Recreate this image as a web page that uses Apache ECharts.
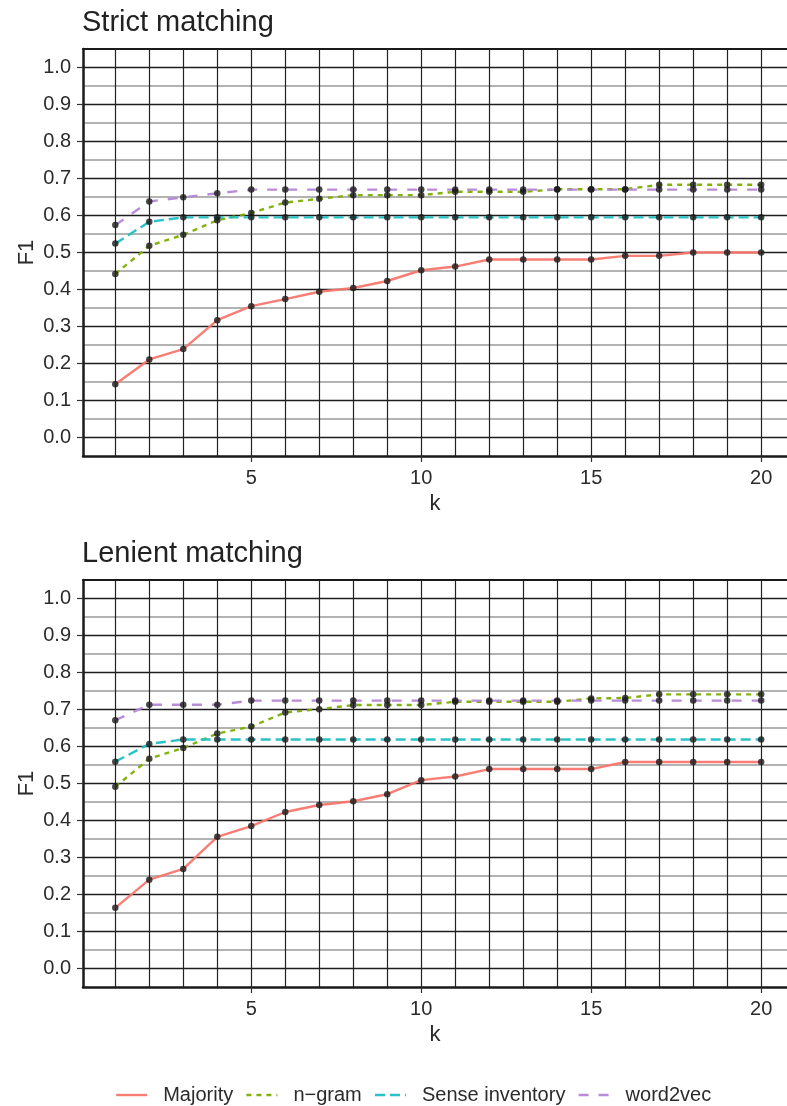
<!DOCTYPE html>
<html>
<head>
<meta charset="utf-8">
<script src="https://cdn.jsdelivr.net/npm/echarts@6/dist/echarts.min.js"></script>
<style>
  html, body { margin: 0; padding: 0; background: #fff; }
  #chart { width: 787px; height: 1106px; }
</style>
</head>
<body>
<div id="chart"></div>
<script>
// k values and tick labels
var kValues = [1, 2, 3, 4, 5, 6, 7, 8, 9, 10, 11, 12, 13, 14, 15, 16, 17, 18, 19, 20];
var xTicks = [5, 10, 15, 20];
var yTicks = [0, 0.1, 0.2, 0.3, 0.4, 0.5, 0.6, 0.7, 0.8, 0.9, 1.0];
var yMinor = [0.05, 0.15, 0.25, 0.35, 0.45, 0.55, 0.65, 0.75, 0.85, 0.95];

// Strict matching
var strictMajority = [0.144, 0.211, 0.239, 0.317, 0.355, 0.374, 0.394, 0.404, 0.423, 0.452,
                      0.462, 0.481, 0.481, 0.481, 0.481, 0.491, 0.491, 0.500, 0.500, 0.500];
var strictNgram = [0.442, 0.518, 0.548, 0.587, 0.607, 0.635, 0.645, 0.655, 0.655, 0.655,
                   0.664, 0.664, 0.664, 0.671, 0.671, 0.671, 0.683, 0.683, 0.683, 0.683];
var strictSense = [0.524, 0.583, 0.595, 0.595, 0.595, 0.595, 0.595, 0.595, 0.595, 0.595,
                   0.595, 0.595, 0.595, 0.595, 0.595, 0.595, 0.595, 0.595, 0.595, 0.595];
var strictW2v = [0.574, 0.638, 0.649, 0.660, 0.670, 0.670, 0.670, 0.670, 0.670, 0.670,
                 0.670, 0.670, 0.670, 0.670, 0.670, 0.670, 0.670, 0.670, 0.670, 0.670];

// Lenient matching
var lenientMajority = [0.164, 0.240, 0.269, 0.356, 0.385, 0.423, 0.442, 0.452, 0.471, 0.509,
                       0.519, 0.539, 0.539, 0.539, 0.539, 0.558, 0.558, 0.558, 0.558, 0.558];
var lenientNgram = [0.491, 0.567, 0.596, 0.635, 0.654, 0.692, 0.701, 0.712, 0.712, 0.712,
                    0.721, 0.721, 0.721, 0.721, 0.730, 0.731, 0.741, 0.741, 0.741, 0.741];
var lenientSense = [0.559, 0.607, 0.619, 0.619, 0.619, 0.619, 0.619, 0.619, 0.619, 0.619,
                    0.619, 0.619, 0.619, 0.619, 0.619, 0.619, 0.619, 0.619, 0.619, 0.619];
var lenientW2v = [0.671, 0.713, 0.713, 0.713, 0.724, 0.724, 0.724, 0.724, 0.724, 0.724,
                  0.724, 0.724, 0.724, 0.724, 0.724, 0.724, 0.724, 0.724, 0.724, 0.724];

var methods = ['Majority', 'n\u2212gram', 'Sense inventory', 'word2vec'];
var colors = ['#F8766D', '#7CAE00', '#1FBFC4', '#B486D6'];
var dashes = ['solid', [5, 5], [10, 5], [10, 10]];

var panels = [
  { title: 'Strict matching', top: 49, data: [strictMajority, strictNgram, strictSense, strictW2v] },
  { title: 'Lenient matching', top: 580, data: [lenientMajority, lenientNgram, lenientSense, lenientW2v] }
];

var textColor = '#2b2b2b';
var font = 'Liberation Sans, Arial, sans-serif';

function pairs(vals) {
  return kValues.map(function (k, i) { return [k, vals[i]]; });
}

// the panel is cut by the right edge of the page, so x max stops short of 20.95
var xMin = 0.05, xMax = 20.76;

var grids = [], xAxes = [], yAxes = [], series = [], titles = [];
panels.forEach(function (p, pi) {
  grids.push({ left: 83, right: 0, top: p.top, height: 407 });
  titles.push({ text: p.title, left: 82, top: p.top - 41, padding: 0,
                textStyle: { fontFamily: font, fontSize: 29, fontWeight: 'normal', color: '#222' } });
  // visible x axis: labels at 5,10,15,20
  xAxes.push({
    type: 'value', gridIndex: pi, min: xMin, max: xMax, position: 'bottom',
    name: 'k', nameLocation: 'middle', nameGap: 37, nameMoveOverlap: false,
    nameTextStyle: { fontFamily: font, fontSize: 22, color: textColor },
    axisLine: { show: true, onZero: false, lineStyle: { color: '#1a1a1a', width: 2.5 } },
    axisTick: { show: true, length: 6, customValues: xTicks, lineStyle: { color: '#333', width: 1.2 } },
    axisLabel: { customValues: xTicks, margin: 12, fontFamily: font, fontSize: 20, color: textColor },
    splitLine: { show: false }
  });
  // helper x axis on top: panel top border and vertical grid at every k
  xAxes.push({
    type: 'value', gridIndex: pi, min: xMin, max: xMax, position: 'top',
    axisLine: { show: true, onZero: false, lineStyle: { color: '#1a1a1a', width: 2 } },
    axisLabel: { show: false },
    axisTick: { show: false, customValues: kValues },
    splitLine: { show: true, lineStyle: { color: '#222', width: 1.2 } }
  });
  yAxes.push({
    type: 'value', gridIndex: pi, min: -0.05, max: 1.05, position: 'left',
    name: 'F1', nameLocation: 'middle', nameGap: 45, nameMoveOverlap: false,
    nameTextStyle: { fontFamily: font, fontSize: 22, color: textColor },
    axisLine: { show: true, onZero: false, lineStyle: { color: '#1a1a1a', width: 2.5 } },
    axisTick: { show: true, length: 6, customValues: yTicks, lineStyle: { color: '#333', width: 1.2 } },
    axisLabel: { customValues: yTicks, margin: 12, fontFamily: font, fontSize: 20, color: textColor,
                 formatter: function (v) { return v.toFixed(1); } },
    splitLine: { show: true, lineStyle: { color: '#1e1e1e', width: 1.3 } }
  });
  yAxes.push({
    type: 'value', gridIndex: pi, min: -0.05, max: 1.05, position: 'right',
    axisLine: { show: false, onZero: false }, axisLabel: { show: false },
    axisTick: { show: false, customValues: yMinor },
    splitLine: { show: true, lineStyle: { color: '#9a9a9a', width: 1.6 } }
  });

  var pts = [];
  p.data.forEach(function (vals, mi) {
    series.push({
      name: methods[mi], type: 'line', xAxisIndex: pi * 2, yAxisIndex: pi * 2,
      data: pairs(vals), symbol: 'none', z: 3,
      lineStyle: { color: colors[mi], width: 2.4, type: dashes[mi], opacity: 0.95 },
      itemStyle: { color: colors[mi] }
    });
    pts = pts.concat(pairs(vals));
  });
  series.push({
    name: 'points' + pi, type: 'scatter', xAxisIndex: pi * 2, yAxisIndex: pi * 2,
    data: pts, symbol: 'circle', symbolSize: 6.5, z: 5,
    itemStyle: { color: '#1a1a1a' }, silent: true
  });
});

var chart = echarts.init(document.getElementById('chart'), null, { renderer: 'canvas' });
chart.setOption({
  animation: false,
  backgroundColor: '#fff',
  title: titles,
  grid: grids,
  xAxis: xAxes,
  yAxis: yAxes,
  legend: {
    data: methods, left: 110, top: 1080, itemWidth: 31, itemHeight: 14, itemGap: 12,
    textStyle: { fontFamily: font, fontSize: 20, color: textColor, padding: [0, 0, 0, 11] },
    itemStyle: { opacity: 0 },
    lineStyle: { width: 2.4 }
  },
  series: series
});
</script>
</body>
</html>
